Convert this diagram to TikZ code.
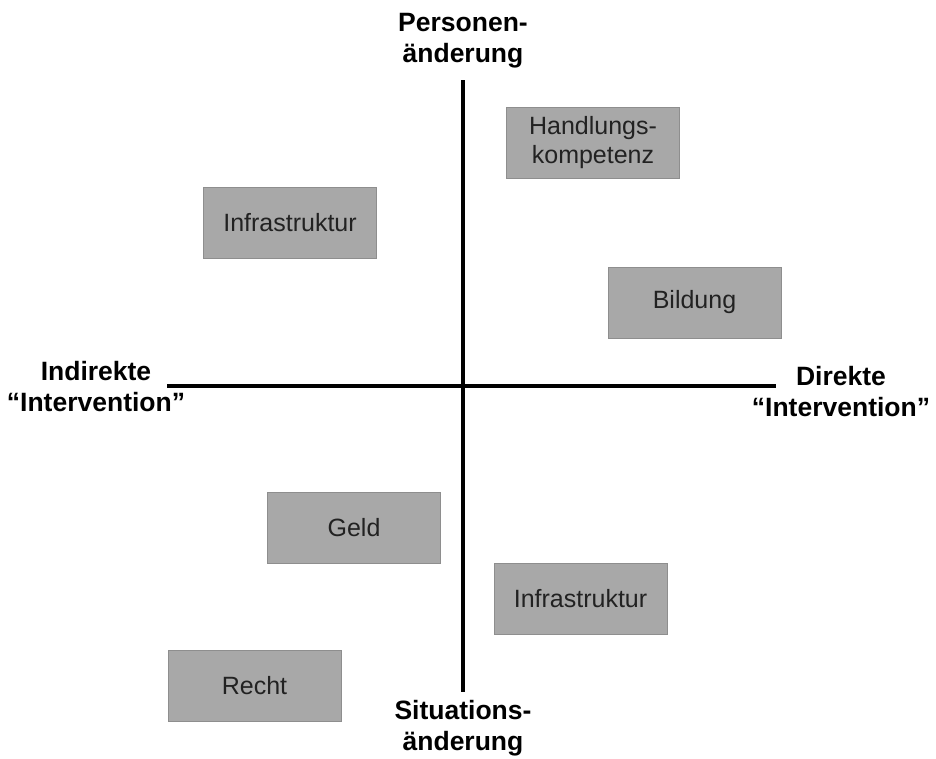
\documentclass[tikz,border=0pt]{standalone}
\usepackage{fontspec}
\setmainfont{Liberation Sans}
\usetikzlibrary{positioning}
\definecolor{boxgray}{HTML}{A8A8A8}
\definecolor{boxedge}{HTML}{8E8E8E}
\definecolor{textdark}{HTML}{222222}
\begin{document}
\begin{tikzpicture}[x=1pt, y=-1pt]
		\tikzstyle{every node}=[font=\fontsize{25}{29}\selectfont]
		\tikzset{
			field/.style={draw=boxedge, line width=1pt, fill=boxgray, text=textdark, align=center,
				minimum width=173pt, minimum height=71pt, inner sep=0pt},
			axislabel/.style={font=\fontsize{26.5}{31}\selectfont\bfseries, align=center, inner sep=0pt},
			axis/.style={line width=3.5pt}
		}
		\useasboundingbox (0,0) rectangle (936,758);
		% axes
		\coordinate (top) at (463,80);
		\coordinate (bottom) at (463,692);
		\coordinate (left) at (167,386);
		\coordinate (right) at (776,386);
		\draw [axis] (top) -- (bottom);
		\draw [axis] (left) -- (right);
		% axis labels
		\node [axislabel] (pers) at (463,41) {Personen-\\änderung};
		\node [axislabel] (sit) at (463,728) {Situations-\\änderung};
		\node [axislabel] (indir) at (96,387) {Indirekte\\“Intervention”};
		\node [axislabel] (dir) at (841,392) {Direkte\\“Intervention”};
		% fields
		\node [field] (hk) at (593,142.5) {Handlungs-\\kompetenz};
		\node [field] (infraup) at (290,223) {Infrastruktur};
		\node [field] (bild) at (694.5,302.5) {Bildung};
		\node [field] (geld) at (354,527.5) {Geld};
		\node [field] (infralow) at (580.5,598.5) {Infrastruktur};
		\node [field] (recht) at (254.5,685.5) {Recht};
	\end{tikzpicture}
\end{document}
